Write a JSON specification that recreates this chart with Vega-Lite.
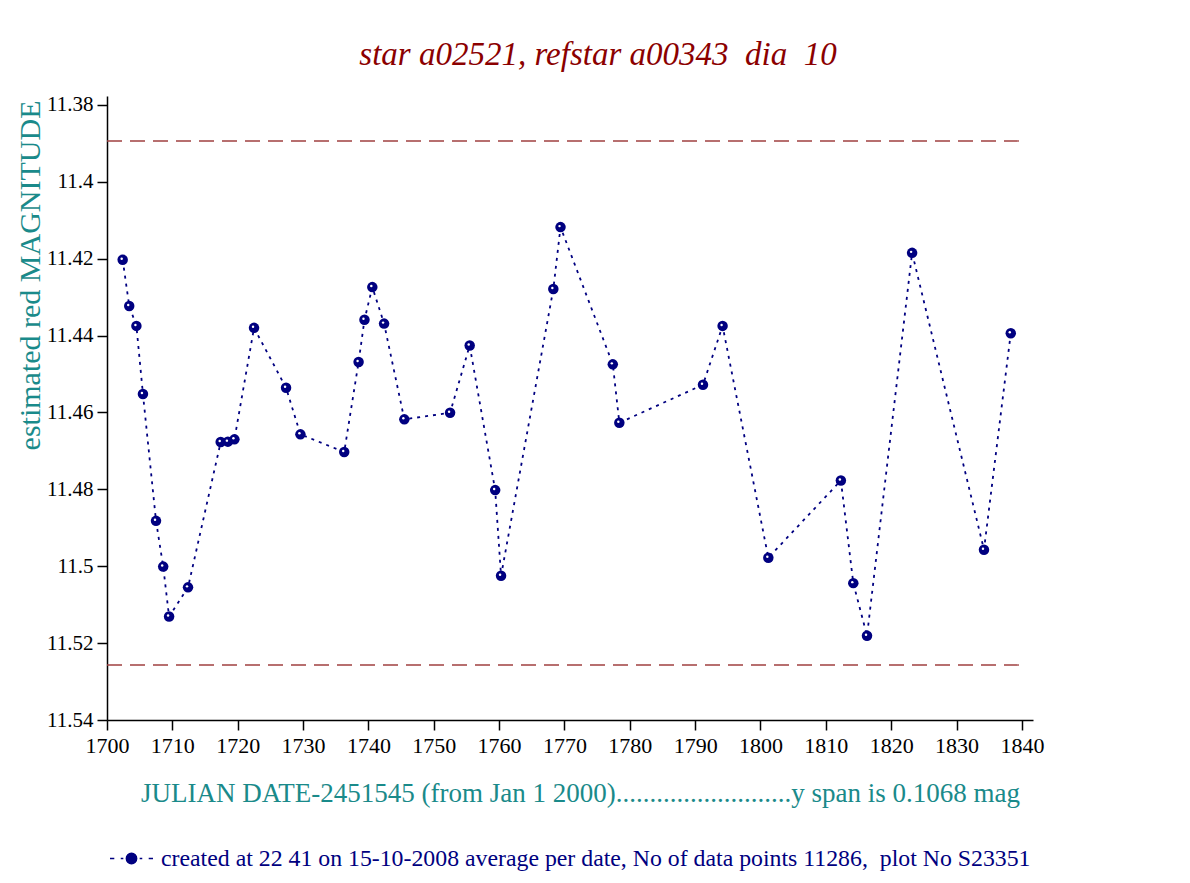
{
  "$schema": "https://vega.github.io/schema/vega-lite/v6.json",
  "width": 926,
  "height": 624,
  "autosize": {"type": "none"},
  "padding": {"left": 107, "top": 96, "right": 157, "bottom": 163},
  "background": "white",
  "title": {
    "text": "star a02521, refstar a00343\u00a0 dia\u00a0 10",
    "font": "Liberation Serif",
    "fontSize": 33,
    "fontStyle": "italic",
    "fontWeight": "normal",
    "color": "#8B0000",
    "anchor": "middle",
    "dx": 28,
    "offset": 22
  },
  "datasets": {
    "pts": [
      {"jd": 1702.4, "mag": 11.4203},
      {"jd": 1703.4, "mag": 11.4323},
      {"jd": 1704.5, "mag": 11.4375},
      {"jd": 1705.5, "mag": 11.4552},
      {"jd": 1707.5, "mag": 11.4882},
      {"jd": 1708.6, "mag": 11.5001},
      {"jd": 1709.5, "mag": 11.5131},
      {"jd": 1712.4, "mag": 11.5055},
      {"jd": 1717.4, "mag": 11.4677},
      {"jd": 1718.5, "mag": 11.4676},
      {"jd": 1719.5, "mag": 11.467},
      {"jd": 1722.5, "mag": 11.438},
      {"jd": 1727.4, "mag": 11.4536},
      {"jd": 1729.6, "mag": 11.4657},
      {"jd": 1736.3, "mag": 11.4703},
      {"jd": 1738.5, "mag": 11.4469},
      {"jd": 1739.4, "mag": 11.4359},
      {"jd": 1740.6, "mag": 11.4274},
      {"jd": 1742.4, "mag": 11.4369},
      {"jd": 1745.5, "mag": 11.4618},
      {"jd": 1752.5, "mag": 11.4601},
      {"jd": 1755.5, "mag": 11.4426},
      {"jd": 1759.4, "mag": 11.4802},
      {"jd": 1760.3, "mag": 11.5025},
      {"jd": 1768.3, "mag": 11.4279},
      {"jd": 1769.4, "mag": 11.4118},
      {"jd": 1777.4, "mag": 11.4475},
      {"jd": 1778.4, "mag": 11.4627},
      {"jd": 1791.2, "mag": 11.4528},
      {"jd": 1794.2, "mag": 11.4375},
      {"jd": 1801.2, "mag": 11.4978},
      {"jd": 1812.3, "mag": 11.4777},
      {"jd": 1814.2, "mag": 11.5044},
      {"jd": 1816.3, "mag": 11.5181},
      {"jd": 1823.2, "mag": 11.4185},
      {"jd": 1834.2, "mag": 11.4957},
      {"jd": 1838.3, "mag": 11.4394}
    ],
    "lims": [
      {"mag": 11.3894},
      {"mag": 11.5257}
    ]
  },
  "layer": [
    {
      "data": {"name": "lims"},
      "mark": {"type": "rule", "color": "#A04040", "strokeWidth": 1.3, "strokeDash": [15, 8]},
      "encoding": {
        "x": {
          "datum": 1700,
          "type": "quantitative",
          "scale": {"domain": [1700, 1841.7], "nice": false, "zero": false},
          "axis": {
            "values": [1700, 1710, 1720, 1730, 1740, 1750, 1760, 1770, 1780, 1790, 1800, 1810, 1820, 1830, 1840],
            "format": "d",
            "labelFont": "Liberation Serif",
            "labelFontSize": 22,
            "labelColor": "black",
            "title": "JULIAN DATE-2451545 (from Jan 1 2000)..........................y span is 0.1068 mag",
            "titleFont": "Liberation Serif",
            "titleFontSize": 27,
            "titleX": 473,
            "titleY": 81,
            "titleAlign": "center",
            "titleBaseline": "alphabetic",
            "titleAnchor": null
          }
        },
        "x2": {"datum": 1840},
        "y": {
          "field": "mag",
          "type": "quantitative",
          "scale": {"domain": [11.3777, 11.54], "reverse": true, "nice": false, "zero": false},
          "axis": {
            "values": [11.38, 11.4, 11.42, 11.44, 11.46, 11.48, 11.5, 11.52, 11.54],
            "format": ".2~f",
            "labelFont": "Liberation Serif",
            "labelFontSize": 21,
            "labelColor": "black",
            "title": "estimated red MAGNITUDE",
            "titleFont": "Liberation Serif",
            "titleFontSize": 30,
            "titleAngle": -90,
            "titleX": -77,
            "titleY": 4,
            "titleAlign": "right",
            "titleBaseline": "middle",
            "titleAnchor": null
          }
        }
      }
    },
    {
      "data": {"name": "pts"},
      "mark": {"type": "line", "color": "#000080", "strokeWidth": 1.8, "strokeDash": [3, 5]},
      "encoding": {
        "x": {"field": "jd", "type": "quantitative"},
        "y": {"field": "mag", "type": "quantitative"}
      }
    },
    {
      "data": {"name": "pts"},
      "mark": {"type": "point", "filled": true, "opacity": 1, "size": 110, "shape": "circle"},
      "encoding": {
        "x": {"field": "jd", "type": "quantitative"},
        "y": {"field": "mag", "type": "quantitative"},
        "color": {
          "datum": "created at 22 41 on 15-10-2008 average per date, No of data points 11286,\u00a0 plot No S23351",
          "type": "nominal",
          "scale": {"range": ["#000080"]},
          "legend": {
            "orient": "none",
            "legendX": 2,
            "legendY": 740,
            "title": null,
            "padding": 0,
            "symbolType": "M-1,0H-0.8M-0.5,0H-0.38M0.38,0H0.5M0.8,0H1M-0.24,0A0.24,0.24,0,1,1,0.24,0A0.24,0.24,0,1,1,-0.24,0Z",
            "symbolSize": 1849,
            "symbolFillColor": "#000080",
            "symbolStrokeColor": "#000080",
            "symbolStrokeWidth": 1.5,
            "symbolOpacity": 1,
            "labelFont": "Liberation Serif",
            "labelFontSize": 23.8,
            "labelColor": "#000080",
            "labelOffset": 7,
            "labelLimit": 1200
          }
        }
      }
    },
    {
      "data": {"name": "pts"},
      "mark": {"type": "point", "filled": true, "color": "white", "opacity": 1, "size": 6, "shape": "circle", "xOffset": -1, "yOffset": -1},
      "encoding": {
        "x": {"field": "jd", "type": "quantitative"},
        "y": {"field": "mag", "type": "quantitative"}
      }
    }
  ],
  "config": {
    "view": {"stroke": null},
    "axis": {
      "grid": false,
      "domainColor": "black",
      "domainWidth": 1.5,
      "tickColor": "black",
      "tickWidth": 1.5,
      "tickSize": 10,
      "labelFont": "Liberation Serif",
      "labelColor": "black",
      "titleFont": "Liberation Serif",
      "titleFontWeight": "normal",
      "titleColor": "#1a8a8a"
    },
    "axisX": {"labelFontSize": 22, "labelPadding": 5, "labelFlush": false},
    "axisY": {"labelFontSize": 21, "labelPadding": 4}
  }
}
